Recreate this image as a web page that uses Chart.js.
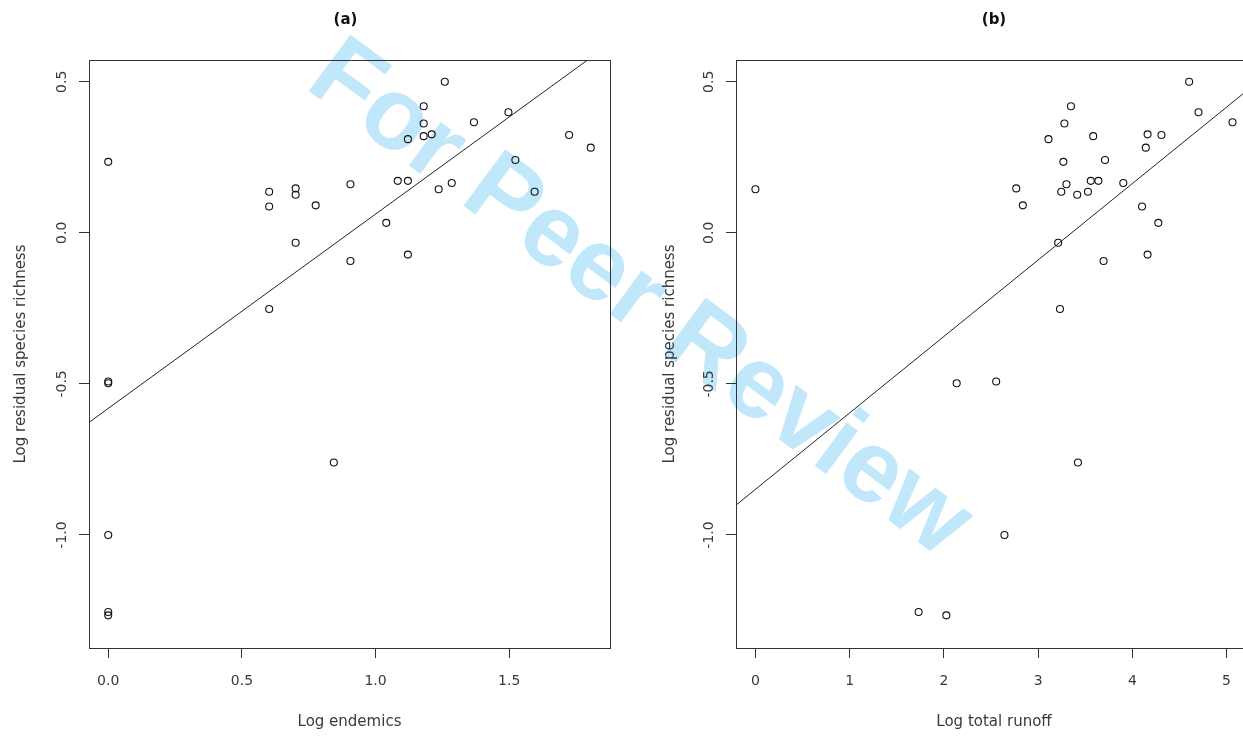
<!DOCTYPE html>
<html>
<head>
<meta charset="utf-8">
<script src="https://cdn.jsdelivr.net/npm/chart.js@4.4.0/dist/chart.umd.min.js"></script>
<style>
  html, body { margin: 0; padding: 0; background: #fff; overflow: hidden; }
  #stage { position: relative; width: 1243px; height: 736px; overflow: hidden; background: #fff; }
  .stamp {
    position: absolute; left: 643px; top: 295px;
    transform: translate(-50%, -50%) rotate(36.5deg);
    font: bold 102px "Liberation Sans", Arial, sans-serif;
    line-height: 1; white-space: nowrap; color: #c1e7fa; z-index: 0;
  }
  canvas { position: absolute; top: 0; z-index: 1; }
  #panelA { left: 0; }
  #panelB { left: 640px; }
</style>
</head>
<body>
<div id="stage">
  <div class="stamp">For Peer Review</div>
  <canvas id="panelA" width="640" height="736"></canvas>
  <canvas id="panelB" width="640" height="736"></canvas>
</div>
<script>
// One entry per site: log residual species richness, with its two predictors.
const richness = [
  0.235, -0.492, -0.498, -1.000, -1.255, -1.266,
  0.136, 0.087, -0.252, 0.147, 0.126, -0.033,
  0.091, 0.161, -0.093, -0.760, 0.033, 0.172,
  0.172, 0.310, -0.072, 0.419, 0.362, 0.320,
  0.326, 0.144, 0.500, 0.165, 0.366, 0.399,
  0.241, 0.136, 0.324, 0.282
];
const logEndemics = [
  0.000, 0.000, 0.000, 0.000, 0.000, 0.000,
  0.602, 0.602, 0.602, 0.701, 0.701, 0.701,
  0.776, 0.906, 0.906, 0.844, 1.040, 1.083,
  1.121, 1.121, 1.121, 1.180, 1.180, 1.180,
  1.210, 1.236, 1.259, 1.285, 1.368, 1.497,
  1.523, 1.595, 1.724, 1.805
];
const logRunoff = [
  3.268, 2.555, 2.136, 2.643, 1.732, 2.026,
  3.246, 4.103, 3.232, 2.768, 3.415, 3.213,
  2.838, 3.301, 3.695, 3.423, 4.276, 3.559,
  3.640, 3.110, 4.162, 3.349, 3.279, 3.585,
  4.162, 0.000, 4.603, 3.904, 5.063, 4.702,
  3.710, 3.529, 4.309, 4.143
];

// Fitted lines: [intercept, slope]
const fitEndemics = [-0.581, 0.643];
const fitRunoff = [-0.849, 0.253];

// Axis extents and tick values
const richnessRange = [-1.374, 0.572];
const endemicsRange = [-0.072, 1.877];
const runoffRange = [-0.206, 5.27];
const richnessTicks = [-1.0, -0.5, 0.0, 0.5];
const endemicsTicks = [0.0, 0.5, 1.0, 1.5];
const runoffTicks = [0, 1, 2, 3, 4, 5];

const panelTitles = ['(a)', '(b)'];
const xTitles = ['Log endemics', 'Log total runoff'];
const yTitle = 'Log residual species richness';

const FONT = '"DejaVu Sans", sans-serif';
const TEXT = '#3a3a3a';
const LINE = '#333';

function framePlugin(title, titleShift) {
  return {
    id: 'frame',
    afterDraw(chart) {
      const { ctx, chartArea: a } = chart;
      ctx.save();
      ctx.strokeStyle = LINE;
      ctx.lineWidth = 1;
      ctx.strokeRect(Math.round(a.left) + 0.5, Math.round(a.top) + 0.5,
                     Math.round(a.right - a.left), Math.round(a.bottom - a.top));
      ctx.fillStyle = '#111';
      ctx.font = 'bold 15px "DejaVu Sans", sans-serif';
      ctx.textAlign = 'center';
      ctx.textBaseline = 'middle';
      ctx.fillText(title, (a.left + a.right) / 2 + titleShift, 20);
      ctx.restore();
    }
  };
}

function makePanel(id, xs, xRange, xTicks, xDigits, fit, title, xTitle, g) {
  const points = xs.map((x, i) => ({ x: x, y: richness[i] }));
  const fitLine = xRange.map(x => ({ x: x, y: fit[0] + fit[1] * x }));
  const tickGrid = {
    display: true, drawOnChartArea: false, drawTicks: true,
    tickLength: 10, color: LINE, lineWidth: 1
  };
  return new Chart(document.getElementById(id), {
    type: 'scatter',
    data: {
      datasets: [
        {
          type: 'scatter', data: points,
          pointStyle: 'circle', pointRadius: 3.5, pointBorderWidth: 1.1,
          pointBorderColor: '#111', pointBackgroundColor: 'rgba(0,0,0,0)'
        },
        {
          type: 'line', data: fitLine,
          borderColor: '#222', borderWidth: 1, pointRadius: 0, fill: false, tension: 0
        }
      ]
    },
    options: {
      responsive: false,
      animation: false,
      devicePixelRatio: 1,
      layout: { padding: { top: g.top, right: g.right, left: 0, bottom: 0 } },
      plugins: {
        legend: { display: false },
        tooltip: { enabled: false },
        title: { display: false }
      },
      scales: {
        x: {
          type: 'linear', position: 'bottom',
          min: xRange[0], max: xRange[1],
          afterBuildTicks: s => { s.ticks = xTicks.map(v => ({ value: v })); },
          afterFit: s => { s.height = g.xAxisH; },
          grid: tickGrid,
          border: { display: false },
          ticks: {
            font: { family: FONT, size: 14 }, color: TEXT, padding: 15,
            maxRotation: 0, autoSkip: false,
            callback: v => Number(v).toFixed(xDigits)
          },
          title: {
            display: true, text: xTitle, color: TEXT,
            font: { family: FONT, size: 15 }, padding: { top: 0, bottom: 5 }
          }
        },
        y: {
          type: 'linear', position: 'left',
          min: richnessRange[0], max: richnessRange[1],
          afterBuildTicks: s => { s.ticks = richnessTicks.map(v => ({ value: v })); },
          afterFit: s => { s.width = g.yAxisW; },
          grid: tickGrid,
          border: { display: false },
          ticks: {
            font: { family: FONT, size: 14 }, color: TEXT, padding: g.yTickPad,
            minRotation: 90, maxRotation: 90, crossAlign: 'center', autoSkip: false,
            callback: v => Number(v).toFixed(1)
          },
          title: {
            display: true, text: yTitle, color: TEXT,
            font: { family: FONT, size: 15 }, padding: { top: g.yTitlePad, bottom: 0 }
          }
        }
      }
    },
    plugins: [framePlugin(title, g.titleShift)]
  });
}

makePanel('panelA', logEndemics, endemicsRange, endemicsTicks, 1, fitEndemics,
  panelTitles[0], xTitles[0],
  { top: 60, right: 30, xAxisH: 88, yAxisW: 89, yTickPad: 3, yTitlePad: 12, titleShift: -4 });

makePanel('panelB', logRunoff, runoffRange, runoffTicks, 0, fitRunoff,
  panelTitles[1], xTitles[1],
  { top: 60, right: 28, xAxisH: 88, yAxisW: 96, yTickPad: 2.5, yTitlePad: 21, titleShift: 0 });
</script>
</body>
</html>
